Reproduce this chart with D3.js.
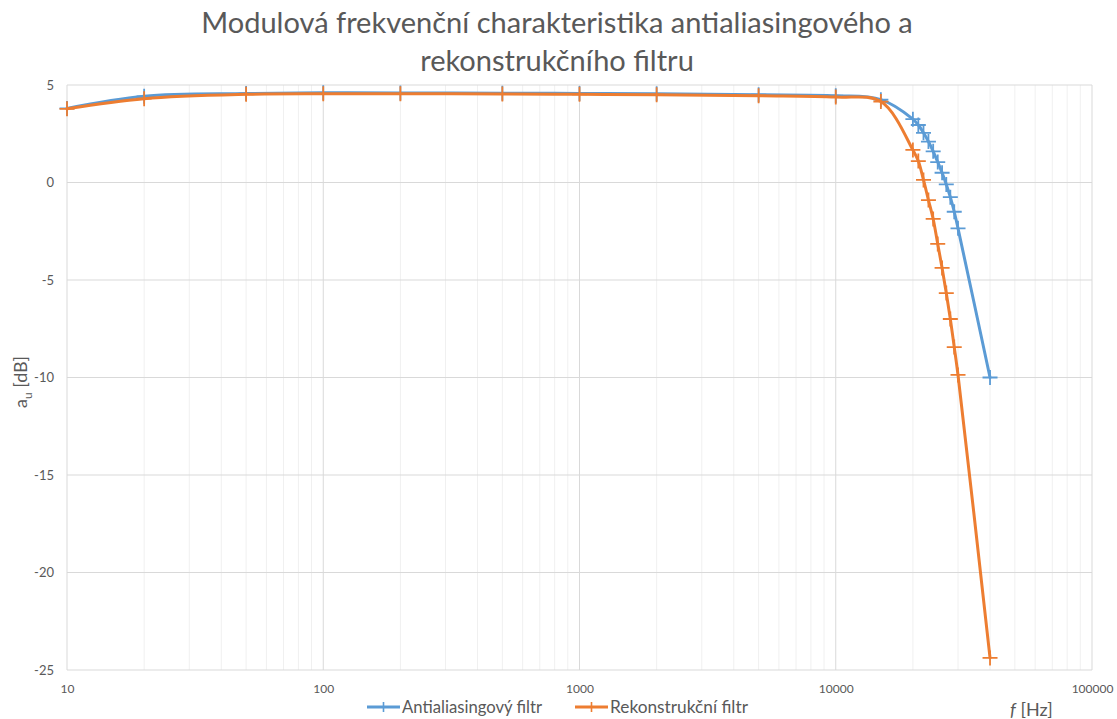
<!DOCTYPE html>
<html>
<head>
<meta charset="utf-8">
<script src="https://cdn.jsdelivr.net/npm/d3@7"></script>
<style>
  html, body { margin: 0; padding: 0; background: #fff; }
  svg { display: block; font-family: Lato, "Open Sans", sans-serif; }
</style>
</head>
<body>
<svg id="chart" width="1117" height="719"></svg>
<script>
// Frequency points [Hz]
const freqs = [10, 20, 50, 100, 200, 500, 1000, 2000, 5000, 10000, 15000,
  20000, 21000, 22000, 23000, 24000, 25000, 26000, 27000, 28000, 29000, 30000, 40000];
// Gain of the anti-aliasing filter [dB]
const antialias = [3.8, 4.42, 4.56, 4.6, 4.59, 4.58, 4.57, 4.55, 4.5, 4.45, 4.25,
  3.25, 2.95, 2.55, 2.1, 1.6, 1.05, 0.5, -0.1, -0.75, -1.5, -2.35, -10.0];
// Gain of the reconstruction filter [dB]
const reconstruct = [3.78, 4.3, 4.52, 4.55, 4.55, 4.54, 4.52, 4.5, 4.45, 4.38, 4.15,
  1.67, 1.1, 0.13, -0.9, -1.87, -3.15, -4.38, -5.67, -7.0, -8.44, -9.87, -24.38];

const xTicks = [10, 100, 1000, 10000, 100000];
const yTicks = [5, 0, -5, -10, -15, -20, -25];
const seriesNames = ["Antialiasingový filtr", "Rekonstrukční filtr"];
const seriesColors = ["#5b9bd5", "#ed7d31"];
const titleLines = ["Modulová frekvenční charakteristika antialiasingového a", "rekonstrukčního filtru"];

const svg = d3.select("#chart");
const plot = { left: 67, right: 1092, top: 85, bottom: 670 };

const x = d3.scaleLog().domain([10, 100000]).range([plot.left, plot.right]);
const y = d3.scaleLinear().domain([-25, 5]).range([plot.bottom, plot.top]);

// shrink/grow a text node's font so it spans the given width
function fitWidth(sel, width) {
  const node = sel.node();
  const fs = parseFloat(sel.attr("font-size"));
  const w = node.getComputedTextLength();
  sel.attr("font-size", (fs * width / w).toFixed(2));
}

// minor vertical gridlines (2..9 within each decade)
const minor = [];
for (let d = 10; d < 100000; d *= 10) for (let k = 2; k <= 9; k++) minor.push(d * k);
svg.append("g").selectAll("line").data(minor).join("line")
  .attr("x1", d => x(d)).attr("x2", d => x(d))
  .attr("y1", plot.top).attr("y2", plot.bottom)
  .attr("stroke", "#f0f0f0").attr("stroke-width", 1);

// major gridlines
svg.append("g").selectAll("line").data(xTicks).join("line")
  .attr("x1", d => x(d)).attr("x2", d => x(d))
  .attr("y1", plot.top).attr("y2", plot.bottom)
  .attr("stroke", "#d9d9d9").attr("stroke-width", 1);
svg.append("g").selectAll("line").data(yTicks).join("line")
  .attr("x1", plot.left).attr("x2", plot.right)
  .attr("y1", d => y(d)).attr("y2", d => y(d))
  .attr("stroke", "#d9d9d9").attr("stroke-width", 1);

// axes (labels only; plain hyphen for negatives)
const yAxis = svg.append("g").attr("transform", `translate(${plot.left},0)`)
  .call(d3.axisLeft(y).tickValues(yTicks).tickSize(0).tickPadding(13).tickFormat(d => String(d)));
yAxis.select(".domain").remove();
yAxis.selectAll("text").attr("font-size", 13).attr("fill", "#595959")
  .attr("font-family", "Lato, 'Open Sans', sans-serif");

const xAxis = svg.append("g").attr("transform", `translate(0,${plot.bottom})`)
  .call(d3.axisBottom(x).tickValues(xTicks).tickSize(0).tickPadding(14).tickFormat(d => String(d)));
xAxis.select(".domain").remove();
xAxis.selectAll("text").attr("font-size", 12).attr("fill", "#595959")
  .attr("font-family", "Lato, 'Open Sans', sans-serif");

// series
const series = [antialias, reconstruct].map((vals, i) => ({
  name: seriesNames[i], color: seriesColors[i],
  points: freqs.map((f, j) => ({ f, v: vals[j] }))
}));

const line = d3.line().x(d => x(d.f)).y(d => y(d.v)).curve(d3.curveCatmullRom.alpha(0.5));
const cross = "M-7.5,0H7.5M0,-7.5V7.5";

const g = svg.append("g");
series.forEach(s => {
  g.append("path").datum(s.points)
    .attr("d", line).attr("fill", "none")
    .attr("stroke", s.color).attr("stroke-width", 3)
    .attr("stroke-linejoin", "round").attr("stroke-linecap", "round");
  g.append("g").selectAll("path").data(s.points).join("path")
    .attr("transform", d => `translate(${x(d.f)},${y(d.v)})`)
    .attr("d", cross).attr("stroke", s.color).attr("stroke-width", 1.8);
});

// title
const title = svg.append("text").attr("text-anchor", "middle").attr("fill", "#595959")
  .attr("font-size", 24);
title.append("tspan").attr("x", 557).attr("y", 33).text(titleLines[0]);
title.append("tspan").attr("x", 557).attr("y", 71).text(titleLines[1]);
{
  const t0 = title.select("tspan").node().getComputedTextLength();
  title.attr("font-size", (24 * 712 / t0).toFixed(2));
}

// axis titles
const yTitle = svg.append("text")
  .attr("transform", "translate(27,382) rotate(-90)")
  .attr("text-anchor", "middle").attr("fill", "#595959").attr("font-size", 18);
yTitle.append("tspan").text("a");
yTitle.append("tspan").attr("font-size", 12).attr("dy", 5).text("u");
yTitle.append("tspan").attr("dy", -5).text(" [dB]");

const xTitle = svg.append("text").attr("x", 1010).attr("y", 716)
  .attr("fill", "#595959").attr("font-size", 18);
xTitle.append("tspan").attr("font-style", "italic").text("f");
xTitle.append("tspan").text(" [Hz]");

// legend
const legendX = [367, 575];
const legend = svg.append("g");
series.forEach((s, i) => {
  const lg = legend.append("g").attr("transform", `translate(${legendX[i]},707)`);
  lg.append("line").attr("x1", 0).attr("x2", 33).attr("stroke", s.color).attr("stroke-width", 3);
  lg.append("path").attr("transform", "translate(16.5,0)").attr("d", "M-5,0H5M0,-5V5")
    .attr("stroke", s.color).attr("stroke-width", 1.6);
  const t = lg.append("text").attr("x", 35).attr("y", 6).attr("fill", "#595959")
    .attr("font-size", 16).text(s.name);
  fitWidth(t, i === 0 ? 140 : 138);
});
</script>
</body>
</html>
